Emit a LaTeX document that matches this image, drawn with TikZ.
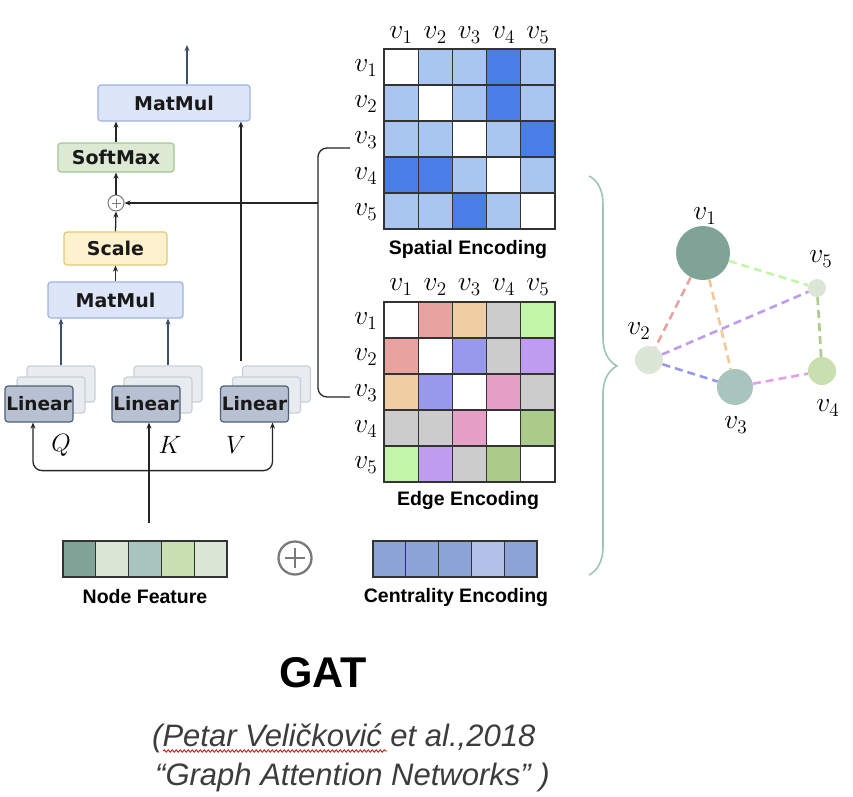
\documentclass[tikz,border=0pt]{standalone}
\usepackage{fontspec}
\usetikzlibrary{arrows.meta,decorations.pathreplacing,decorations.pathmorphing}
\newfontfamily\boxfont{DejaVu Sans}
\newfontfamily\capfont{Liberation Sans}

\definecolor{mmfill}{HTML}{DDE6F8}
\definecolor{mmline}{HTML}{9FB3DE}
\definecolor{smfill}{HTML}{DCEAD4}
\definecolor{smline}{HTML}{A3C595}
\definecolor{scfill}{HTML}{FDF1CE}
\definecolor{scline}{HTML}{E2C874}
\definecolor{lnfill}{HTML}{B8C1D1}
\definecolor{lnline}{HTML}{4F5F78}
\definecolor{shfill}{HTML}{E8EBF0}
\definecolor{shline}{HTML}{C8CFD9}
\definecolor{wirec}{HTML}{262626}
\definecolor{slate}{HTML}{3E5068}
\definecolor{plusgray}{HTML}{7A7A7A}
\definecolor{bracec}{HTML}{9CC5BC}
\definecolor{citec}{HTML}{3C3C3C}
\definecolor{spW}{HTML}{FFFFFF}
\definecolor{spL}{HTML}{A9C6F0}
\definecolor{spD}{HTML}{4A7DE6}
\definecolor{egW}{HTML}{FFFFFF}
\definecolor{egR}{HTML}{E8A3A0}
\definecolor{egO}{HTML}{F0CDA2}
\definecolor{egG}{HTML}{CCCCCC}
\definecolor{egN}{HTML}{C3F5A8}
\definecolor{egB}{HTML}{9898EC}
\definecolor{egP}{HTML}{C09CF0}
\definecolor{egK}{HTML}{E6A0C8}
\definecolor{egD}{HTML}{AACB8A}
\definecolor{gedgeK}{HTML}{E59EEA}
\definecolor{gedgeO}{HTML}{F2C896}
\definecolor{nfA}{HTML}{7FA497}
\definecolor{nfB}{HTML}{DCE6D6}
\definecolor{nfC}{HTML}{A8C5BD}
\definecolor{nfD}{HTML}{C8DFB0}
\definecolor{ceA}{HTML}{8CA3D8}
\definecolor{ceB}{HTML}{B0C0E6}

\tikzset{
  blk/.style={draw, rounded corners=3pt, line width=1.2pt, inner sep=0pt, text=black!90,
    font=\boxfont\bfseries\fontsize{19}{22}\selectfont},
  matmul/.style={blk, fill=mmfill, draw=mmline, minimum height=36pt},
  lin/.style={blk, fill=lnfill, draw=lnline, minimum width=68pt, minimum height=36pt,
    font=\boxfont\bfseries\fontsize{18.5}{22}\selectfont},
  shbox/.style={draw=shline, fill=shfill, rounded corners=3pt, line width=1.2pt,
    minimum width=68pt, minimum height=36pt, inner sep=0pt},
  wire/.style={draw=wirec, line width=1.3pt},
  arr/.style={wire, ->},
  sarr/.style={draw=slate, line width=1.3pt, ->},
  cell/.style={draw=black!80, line width=1.2pt, minimum width=34.2pt, minimum height=36pt, inner sep=0pt},
  bar/.style={draw=black!80, line width=1.2pt, minimum width=32.8pt, minimum height=36pt, inner sep=0pt},
  vlab/.style={inner sep=0pt, font=\fontsize{17.28}{20}\selectfont, scale=1.6},
  qkv/.style={inner sep=0pt, font=\fontsize{17.28}{20}\selectfont, scale=1.45},
  captext/.style={inner sep=0pt, font=\capfont\bfseries\fontsize{19.5}{23}\selectfont},
  gnode/.style={circle, inner sep=0pt},
  gedge/.style={line width=2.6pt, dash pattern=on 8pt off 5pt},
  cite/.style={inner sep=0pt, text=citec, font=\capfont\itshape\fontsize{31}{36}\selectfont}
}

\begin{document}
\begin{tikzpicture}[x=1pt, y=-1pt, >={Stealth[length=6pt,width=5pt]}]
  \useasboundingbox[fill=white] (0,0) rectangle (853,796);

  \node[matmul, minimum width=152pt] (mm2) at (174,103) {MatMul};
  \node[blk, fill=smfill, draw=smline, minimum width=116pt, minimum height=29pt] (soft) at (116,157.5) {SoftMax};
  \node[circle, draw=plusgray, line width=1pt, minimum size=16pt, inner sep=0pt] (plus) at (116,203) {};
  \draw[plusgray, line width=1pt] ([xshift=-4.5pt]plus.center) -- ([xshift=4.5pt]plus.center)
    ([yshift=-4.5pt]plus.center) -- ([yshift=4.5pt]plus.center);
  \node[blk, fill=scfill, draw=scline, minimum width=103pt, minimum height=33pt] (scale) at (115.5,248.5) {Scale};
  \node[matmul, minimum width=135pt] (mm1) at (115.5,300) {MatMul};

  \foreach \n/\x in {q/39,k/146,v/254.5} {
    \node[shbox] (\n3) at (\x+22,384) {};
    \node[shbox] (\n2) at (\x+12,395) {};
    \node[lin] (\n l) at (\x,404) {Linear};
  }
  \node[qkv] (lq) at (61,445) {$Q$};
  \node[qkv] (lk) at (170,445) {$K$};
  \node[qkv] (lv) at (236,445) {$V$};

  \coordinate (out) at (187,45);
  \draw[sarr] (out |- mm2.north) -- (out);
  \draw[arr] (soft.north) -- (soft.north |- mm2.south);
  \draw[arr] (plus.north) -- (soft.south);
  \draw[arr] (scale.north) -- (plus.south);
  \draw[arr] (mm1.north) -- (scale.south);
  \draw[sarr] (q3.north) -- (q3.north |- mm1.south);
  \draw[sarr] (k3.north) -- (k3.north |- mm1.south);
  \draw[arr] ([xshift=-1pt,yshift=4pt]v3.north west) -- ([xshift=-1pt]v3.north west |- mm2.south);

  \coordinate (in) at (149,523);
  \draw[arr] (in) -- (in |- kl.south);
  \draw[wire, <->, rounded corners=9pt] ([xshift=-6pt]ql.south) -- ++(0,48) -| ([xshift=18pt]vl.south);

  \foreach \row [count=\i] in {{W,L,L,D,L},{L,W,L,D,L},{L,L,W,L,D},{D,D,L,W,L},{L,L,D,L,W}} {
    \foreach \c [count=\j] in \row {
      \node[cell, fill=sp\c] (s\i\j) at ({384+34.2*(\j-0.5)},{49+36*(\i-0.5)}) {};
    }
  }
  \foreach \row [count=\i] in {{W,R,O,G,N},{R,W,B,G,P},{O,B,W,K,G},{G,G,K,W,D},{N,P,G,D,W}} {
    \foreach \c [count=\j] in \row {
      \node[cell, fill=eg\c] (e\i\j) at ({384+34.2*(\j-0.5)},{302+36*(\i-0.5)}) {};
    }
  }
  \foreach \i in {1,...,5} {
    \node[vlab] (sc\i) at ({384+34.2*(\i-0.5)},35) {$v_\i$};
    \node[vlab] (sr\i) at (366,{68+36*(\i-1)}) {$v_\i$};
    \node[vlab] (ec\i) at ({384+34.2*(\i-0.5)},287) {$v_\i$};
    \node[vlab] (er\i) at (366,{321+36*(\i-1)}) {$v_\i$};
  }
  \node[captext] (spat) at (468,249) {Spatial Encoding};
  \node[captext] (edge) at (468,500) {Edge Encoding};

  \coordinate (bt) at (350,148);
  \coordinate (bb) at (350,397);
  \coordinate (br) at (318,203);
  \draw[wire, rounded corners=9pt] (bt) -- (br |- bt) -- (br |- bb) -- (bb);
  \draw[arr] (br) -- (plus);

  \foreach \c [count=\j] in {nfA,nfB,nfC,nfD,nfB} {
    \node[bar, fill=\c] (nf\j) at ({63+32.8*(\j-0.5)},559) {};
  }
  \foreach \c [count=\j] in {ceA,ceA,ceA,ceB,ceA} {
    \node[bar, fill=\c] (ce\j) at ({373+32.8*(\j-0.5)},559) {};
  }
  \node[captext] (nfl) at (145,597) {Node Feature};
  \node[captext] (cel) at (456,597) {Centrality Encoding};
  \node[circle, draw=plusgray, line width=2.3pt, minimum size=33pt, inner sep=0pt] (sum) at (295,558) {};
  \draw[plusgray, line width=2.3pt] ([xshift=-10pt]sum.center) -- ([xshift=10pt]sum.center)
    ([yshift=-10pt]sum.center) -- ([yshift=10pt]sum.center);

  \draw[bracec, line width=1.6pt, decorate, decoration={brace, amplitude=28pt, aspect=0.476}]
    (589,176) -- (589,575);

  \node[gnode, fill=nfA, minimum size=54pt] (g1) at (703,253) {};
  \node[gnode, fill=nfB, minimum size=28pt] (g2) at (649,360) {};
  \node[gnode, fill=nfC, minimum size=36pt] (g3) at (735,387) {};
  \node[gnode, fill=nfD, minimum size=28pt] (g4) at (822,371) {};
  \node[gnode, fill=nfB, minimum size=18pt] (g5) at (817,288) {};
  \draw[gedge, draw=egR] (g1) -- (g2);
  \draw[gedge, draw=gedgeO] (g1) -- (g3);
  \draw[gedge, draw=egN] (g1) -- (g5);
  \draw[gedge, draw=egP] (g2) -- (g5);
  \draw[gedge, draw=egB] (g2) -- (g3);
  \draw[gedge, draw=gedgeK] (g3) -- (g4);
  \draw[gedge, draw=egD] (g5) -- (g4);
  \node[vlab] (gl1) at (705,216) {$v_1$};
  \node[vlab] (gl2) at (639,331) {$v_2$};
  \node[vlab] (gl3) at (736,425) {$v_3$};
  \node[vlab] (gl4) at (828,408) {$v_4$};
  \node[vlab] (gl5) at (821,259) {$v_5$};

  \node[inner sep=0pt, font=\capfont\bfseries\fontsize{43}{48}\selectfont] (title) at (323,673) {GAT};
  \node[cite, anchor=west] (cite1) at (152,738) {(Petar Veličković et al.,2018};
  \node[cite, anchor=west] (cite2) at (155,777) {“Graph Attention Networks” )};
  \draw[red!85!black, line width=0.8pt, decorate, decoration={snake, amplitude=1.2pt, segment length=4pt}]
    (163,751) -- (387,751);
\end{tikzpicture}
\end{document}
